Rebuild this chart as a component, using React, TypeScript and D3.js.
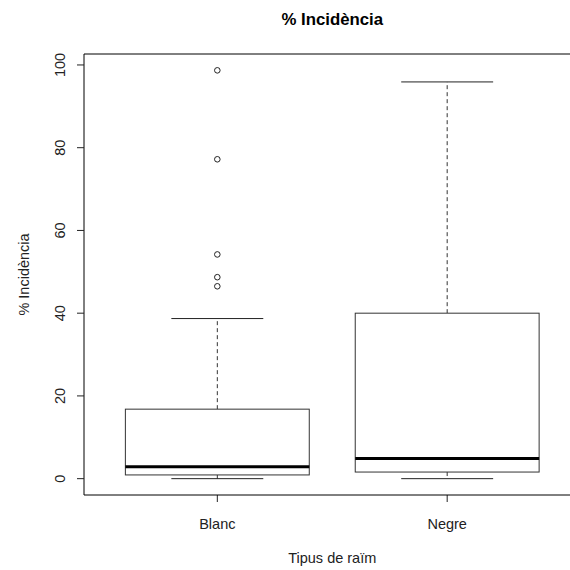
import React from "react";
import * as d3 from "d3";

const categories = ["Blanc", "Negre"];
const lowerWhisker = [0, 0];
const q1 = [0.9, 1.6];
const median = [2.9, 4.9];
const q3 = [16.8, 40.0];
const upperWhisker = [38.7, 95.9];
const outliers: number[][] = [[98.7, 77.2, 54.2, 48.7, 46.5], []];
const yTicks = [0, 20, 40, 60, 80, 100];

const W = 570, H = 570;
const left = 84, right = 580.5, top = 54, bottom = 495;

export default function App() {
  const x = d3.scaleLinear().domain([0.42, 2.58]).range([left, right]);
  const y = d3.scaleLinear().domain([-3.95, 102.65]).range([bottom, top]);
  const font = "'Liberation Sans', Arial, sans-serif";
  const bw = 0.4, cap = 0.2;
  const fs = 14.5;
  return (
    <svg width={W} height={H} style={{ position: "absolute", left: 0, top: 0, background: "#fff" }}>
      <rect x={0} y={0} width={W} height={H} fill="#fff" />
      <text x={(left + right) / 2} y={25} textAnchor="middle" fontFamily={font} fontWeight="bold" fontSize={16.8}>% Incidència</text>
      {categories.map((c, i) => {
        const cx = x(i + 1);
        return (
          <g key={c}>
            <line x1={cx} x2={cx} y1={y(q3[i])} y2={y(upperWhisker[i])} stroke="#333" strokeDasharray="4,3" />
            <line x1={cx} x2={cx} y1={y(q1[i])} y2={y(lowerWhisker[i])} stroke="#333" strokeDasharray="4,3" />
            <line x1={x(i + 1 - cap)} x2={x(i + 1 + cap)} y1={y(upperWhisker[i])} y2={y(upperWhisker[i])} stroke="#222" />
            <line x1={x(i + 1 - cap)} x2={x(i + 1 + cap)} y1={y(lowerWhisker[i])} y2={y(lowerWhisker[i])} stroke="#222" />
            <rect x={x(i + 1 - bw)} y={y(q3[i])} width={x(i + 1 + bw) - x(i + 1 - bw)} height={y(q1[i]) - y(q3[i])} fill="#fff" stroke="#333" />
            <line x1={x(i + 1 - bw)} x2={x(i + 1 + bw)} y1={y(median[i])} y2={y(median[i])} stroke="#000" strokeWidth={3} />
            {outliers[i].map((v, j) => (
              <circle key={j} cx={cx} cy={y(v)} r={2.8} fill="none" stroke="#222" />
            ))}
            <line x1={cx} x2={cx} y1={bottom} y2={bottom + 7} stroke="#222" />
            <text x={cx} y={529} textAnchor="middle" fontFamily={font} fontSize={fs} fill="#222">{c}</text>
          </g>
        );
      })}
      <path d={`M${right},${top}H${left}V${bottom}H${right}`} fill="none" stroke="#000" />
      {yTicks.map((t) => (
        <g key={t}>
          <line x1={left - 7} x2={left} y1={y(t)} y2={y(t)} stroke="#222" />
          <text transform={`translate(64.5,${y(t)}) rotate(-90)`} textAnchor="middle" fontFamily={font} fontSize={fs} fill="#222">{t}</text>
        </g>
      ))}
      <text transform={`translate(28.5,${(top + bottom) / 2}) rotate(-90)`} textAnchor="middle" fontFamily={font} fontSize={fs} fill="#222">% Incidència</text>
      <text x={(left + right) / 2} y={563} textAnchor="middle" fontFamily={font} fontSize={fs} fill="#222">Tipus de raïm</text>
    </svg>
  );
}
